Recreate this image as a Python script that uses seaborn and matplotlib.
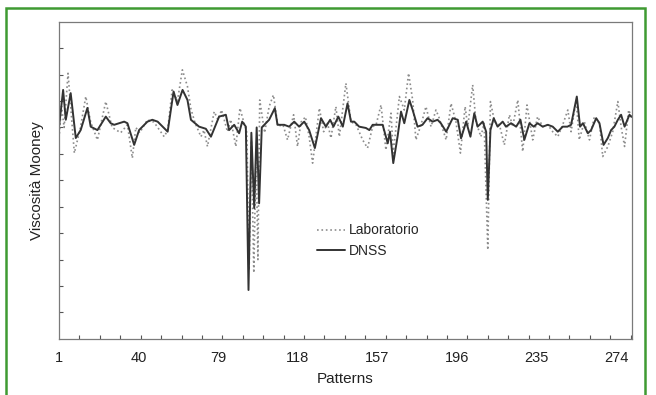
import numpy as np
import pandas as pd
import matplotlib
matplotlib.use("Agg")
import matplotlib.pyplot as plt
import seaborn as sns
from matplotlib.patches import Rectangle

# DNSS (solid) - key points
dnss_x = [1, 3.0, 4.3, 6.7, 9.2, 11.6, 14.9, 16.5, 19.8, 23.9, 26.3, 28, 32.9, 34.5, 37.8, 40.2,
          44.3, 46.7, 49.3, 54.2, 57.1, 59.0, 61.5, 63.9, 65.6, 69.6, 72.9, 75.4, 79.4, 82.7,
          84.3, 86.8, 89.2, 90.7, 92.5, 93.8, 95.2, 96.6, 97.8, 99.0, 100.3, 103.9, 106.7, 108,
          111.3, 113.7, 116.2, 118.6, 121.1, 123.5, 126.3, 129.3, 131.7, 133.8, 135.4, 137.8,
          140, 142.3, 144, 145.6, 148, 151.3, 153, 154.6, 156.3, 159.5, 162, 163.1, 164.7,
          166.8, 168.5, 170.1, 172.6, 174.2, 176.6, 179, 181.5, 184, 186.4, 188, 190.6, 193.8,
          196.3, 197.9, 200.4, 202.5, 204.4, 206, 208.5, 210.2, 211, 212.3, 213.9, 215.8,
          218.3, 219.9, 222.4, 224.9, 227, 228.9, 231.4, 233.5, 235.4, 237.9, 240.4, 242.8,
          245.3, 247.7, 250, 251.8, 254.6, 256.2, 257.6, 260, 261.6, 264.1, 265.7, 267.7,
          269.8, 271.4, 273, 274.7, 276.3, 278, 280.4, 281.4]
dnss_y = [80.3, 94.2, 82.9, 93.0, 76.0, 79.0, 87.4, 80.3, 79.0, 84.1, 81.6, 81.0, 82.2, 81.6, 73.4, 79.0,
          82.2, 82.9, 82.2, 78.4, 93.6, 88.5, 94.2, 90.4, 82.9, 80.3, 79.5, 76.5, 84.1, 84.8,
          79.0, 81.0, 77.8, 82.2, 80.3, 18.5, 78.0, 49.5, 80.0, 51.3, 80.0, 82.9, 87.3, 81.0,
          81.0, 80.3, 82.2, 80.3, 82.2, 79.0, 72.2, 83.5, 80.3, 82.9, 80.3, 84.1,
          80.3, 89.1, 82.2, 82.2, 80.3, 79.8, 79.0, 81.0, 81.0, 81.0, 74.0, 78.4, 66.5,
          76.5, 86.0, 81.6, 90.4, 86.6, 80.3, 81.0, 83.5, 82.2, 82.9, 81.6, 78.4, 83.5,
          82.9, 75.9, 82.2, 76.5, 85.4, 80.3, 82.2, 78.4, 52.6, 79.0, 83.5, 80.3,
          82.2, 80.3, 81.6, 80.3, 82.9, 75.3, 81.6, 80.3, 81.6, 80.3, 81.0, 80.3,
          78.4, 80.3, 80.3, 81.0, 91.7, 80.3, 81.6, 77.8, 79.0, 83.5, 81.6, 73.4,
          76.0, 79.0, 80.3, 82.9, 84.8, 80.3, 84.8, 84.0]

# Laboratorio (dotted)
lab_x = [1, 2.2, 3.5, 5.4, 8.5, 11.5, 14.1, 16.5, 19.8, 23.9, 27, 31.2, 34.5, 36.9, 38.6, 40.5,
         44.3, 47.5, 52.5, 54.2, 56.4, 59, 61.4, 63.9, 65.6, 67.5, 70.5, 72, 73.7, 77, 78.8,
         80.6, 83.5, 85.1, 87.6, 89.6, 91.5, 93, 94.1, 95.2, 96.4, 97.5, 98.4, 99.3, 101.7,
         103.9, 106, 108.2, 110.7, 112.9, 115.9, 117.8, 119.5, 121.7, 123.5, 125.2, 128.5,
         130.6, 132.5, 134.2, 136.6, 138.3, 141.5, 144, 146.5, 149.7, 152.1, 154.6, 156.3,
         158.7, 161.1, 163.6, 164.7, 167.7, 170.1, 172.2, 174.2, 175.8, 178.3, 180.7, 183.2,
         185.6, 187, 190.6, 193, 195.4, 197.6, 199.9, 201.2, 203.6, 205.2, 207.6, 209.2,
         211, 212.3, 214.3, 216.7, 219.1, 221.6, 223.2, 225.7, 228.1, 230.2, 233, 235.4,
         237.9, 240.4, 242.8, 245.3, 247.7, 250.2, 251.8, 254.3, 255.8, 258.3, 260.8, 263.2,
         265.7, 267.3, 269.8, 272.2, 274.7, 276.3, 278, 280, 281.4]
lab_y = [76.0, 88.0, 80.0, 100.5, 70.3, 80.0, 91.7, 82.0, 75.3, 89.8, 80.0, 78.0, 81.0, 68.4, 80.0, 78.0,
         82.9, 82.0, 76.5, 79.0, 94.2, 90.0, 101.8, 95.5, 87.0, 82.0, 76.5, 79.0, 72.8, 86.0, 83.0,
         86.6, 78.4, 83.0, 72.8, 87.3, 82.0, 78.0, 26.0, 75.0, 25.0, 72.0, 30.0, 90.4, 78.0,
         87.9, 92.3, 80.5, 81.0, 75.3, 84.8, 72.8, 82.0, 84.0, 76.5, 66.5, 87.3,
         78.4, 81.6, 76.0, 87.9, 76.5, 96.7, 82.2, 81.0, 75.3, 72.2, 80.3, 81.0,
         88.5, 71.5, 85.4, 70.3, 91.7, 86.6, 100.5, 90.4, 75.3, 81.0, 87.9, 80.3,
         86.6, 84.0, 75.3, 89.1, 82.2, 70.3, 87.9, 80.3, 96.1, 82.2, 76.5, 81.6,
         33.7, 89.8, 82.2, 81.0, 73.4, 84.8, 80.3, 90.4, 70.9, 88.5, 75.3, 84.1,
         80.3, 81.0, 78.4, 76.5, 81.0, 86.6, 78.4, 90.4, 75.3, 82.2, 75.3, 84.1,
         81.6, 69.0, 72.8, 78.4, 89.8, 80.3, 72.8, 86.6, 84.0]

xtick_labels = [1, 40, 79, 118, 157, 196, 235, 274]

sns.set_style("white")
plt.rcParams['font.family'] = ['Liberation Sans', 'DejaVu Sans']

fig = plt.figure(figsize=(6.56, 3.95), dpi=100)
ax = fig.add_axes([0.090, 0.142, 0.873, 0.803])

lab_df = pd.DataFrame({'pattern': lab_x, 'value': lab_y})
dnss_df = pd.DataFrame({'pattern': dnss_x, 'value': dnss_y})

sns.lineplot(data=lab_df, x='pattern', y='value', ax=ax, color='#8c8c8c',
             linestyle=':', linewidth=1.2, label='Laboratorio')
sns.lineplot(data=dnss_df, x='pattern', y='value', ax=ax, color='#333333',
             linewidth=1.4, label='DNSS')

ax.set_xlim(1, 281.5)
ax.set_ylim(0, 120)

ax.set_xticks(xtick_labels)
ax.set_xticks(np.arange(1, 282, 10), minor=True)
ax.set_yticks(np.arange(10, 120, 10))
ax.set_yticklabels([])
ax.tick_params(axis='x', which='major', length=0, labelsize=10.5, pad=9, colors='#222222')
ax.tick_params(axis='x', which='minor', direction='in', length=3, width=0.8, color='#555555',
               bottom=True)
ax.tick_params(axis='y', which='major', direction='in', length=3, width=0.8, color='#555555',
               left=True)

for sp in ax.spines.values():
    sp.set_color('#7a7a7a')
    sp.set_linewidth(0.9)

ax.set_xlabel('Patterns', fontsize=11, color='#222222', labelpad=5)
ax.set_ylabel('Viscosità Mooney', fontsize=11, color='#222222', labelpad=7)

leg = ax.legend(loc='center', bbox_to_anchor=(0.54, 0.31), frameon=False, fontsize=10,
                handlelength=2.0, handletextpad=0.25, labelspacing=0.45)

# green frame around the figure
fig.patches.append(Rectangle((5.5 / 656, -0.05), (645 - 5.5) / 656, 1 - 8 / 395 + 0.05,
                             transform=fig.transFigure, fill=False, edgecolor='#3f9a32',
                             linewidth=1.8, zorder=10))

fig.savefig('out.png', dpi=100)
